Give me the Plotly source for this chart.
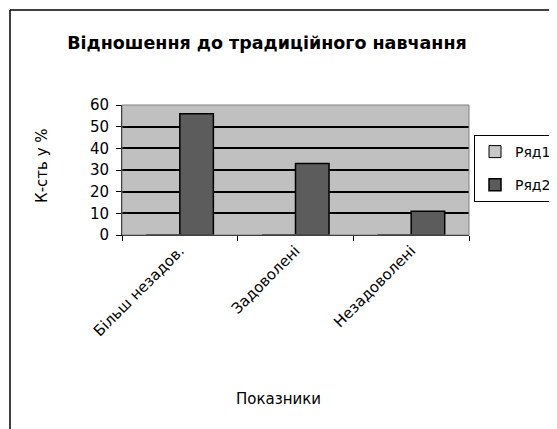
import plotly.graph_objects as go

categories = ["Більш незадов.", "Задоволені", "Незадоволені"]
series1_name = "Ряд1"
series1_values = [0, 0, 0]
series2_name = "Ряд2"
series2_values = [56, 33, 11]
y_ticks = [0, 10, 20, 30, 40, 50, 60]

FONT = "DejaVu Sans, Verdana, sans-serif"

fig = go.Figure()
fig.add_trace(go.Bar(x=categories, y=series1_values, name=series1_name,
                     legendgroup="g1",
                     marker=dict(color="#c8c8c8", line=dict(color="#000000", width=1))))
fig.add_trace(go.Bar(x=categories, y=series2_values, name=series2_name,
                     legendgroup="g2",
                     marker=dict(color="#5c5c5c", line=dict(color="#000000", width=1.5))))

# page body has an 8px margin: work in screen coords, convert to figure coords
OFF = 8
W, H = 557 - OFF, 429 - OFF
L, R, T, B = 122 - OFF, 469 - OFF, 105 - OFF, 235 - OFF
pw, ph = R - L, B - T

def px(x):
    return (x - OFF - L) / pw

def py(y):
    return (B - (y - OFF)) / ph

fig.update_layout(
    width=W, height=H,
    margin=dict(l=L, r=W - R, t=T, b=H - B, pad=0, autoexpand=False),
    paper_bgcolor="white",
    plot_bgcolor="#c0c0c0",
    barmode="group",
    bargap=0.42,
    bargroupgap=0,
    font=dict(family=FONT, size=14, color="#000000"),
    title=dict(text="<b>Відношення до традиційного навчання</b>",
               x=px(267), xanchor="center", xref="paper",
               y=1 - (43 - OFF) / H, yanchor="middle",
               font=dict(family=FONT, size=17.5, color="#000000")),
    showlegend=True,
    legend=dict(x=px(474), y=py(135), xanchor="left", yanchor="top",
                bordercolor="#000000", borderwidth=1, bgcolor="white",
                font=dict(family=FONT, size=14), traceorder="grouped",
                tracegroupgap=12, itemwidth=30),
    xaxis=dict(type="category", tickson="boundaries", ticks="outside",
               ticklen=5, tickcolor="#000000", showline=True,
               linecolor="#000000", linewidth=1, tickangle=-45,
               showgrid=False, tickfont=dict(family=FONT, size=15),
               mirror=False),
    yaxis=dict(range=[0, 60], tickvals=y_ticks, ticks="outside", ticklen=5,
               tickcolor="#000000", showline=True, linecolor="#000000",
               linewidth=1, showgrid=True, gridcolor="#000000", gridwidth=1.5,
               zeroline=False, tickfont=dict(family=FONT, size=15),
               ticklabelstandoff=4),
    annotations=[
        dict(text="К-сть у %", textangle=-90, xref="paper", yref="paper",
             x=px(42), y=py(166), xanchor="center", yanchor="middle",
             showarrow=False, font=dict(family=FONT, size=15)),
        dict(text="Показники", xref="paper", yref="paper",
             x=px(278), y=py(399), xanchor="center", yanchor="middle",
             showarrow=False, font=dict(family=FONT, size=15)),
    ],
    shapes=[
        dict(type="rect", xref="paper", yref="paper",
             x0=0, x1=1, y0=0, y1=1, line=dict(color="#808080", width=1),
             fillcolor="rgba(0,0,0,0)", layer="above"),
        dict(type="line", xref="paper", yref="paper",
             x0=px(10), x1=px(10), y0=py(480), y1=py(10),
             line=dict(color="#000000", width=1.5)),
        dict(type="line", xref="paper", yref="paper",
             x0=px(10), x1=px(600), y0=py(10), y1=py(10),
             line=dict(color="#000000", width=1.5)),
    ],
)

fig.write_html("out.html")
